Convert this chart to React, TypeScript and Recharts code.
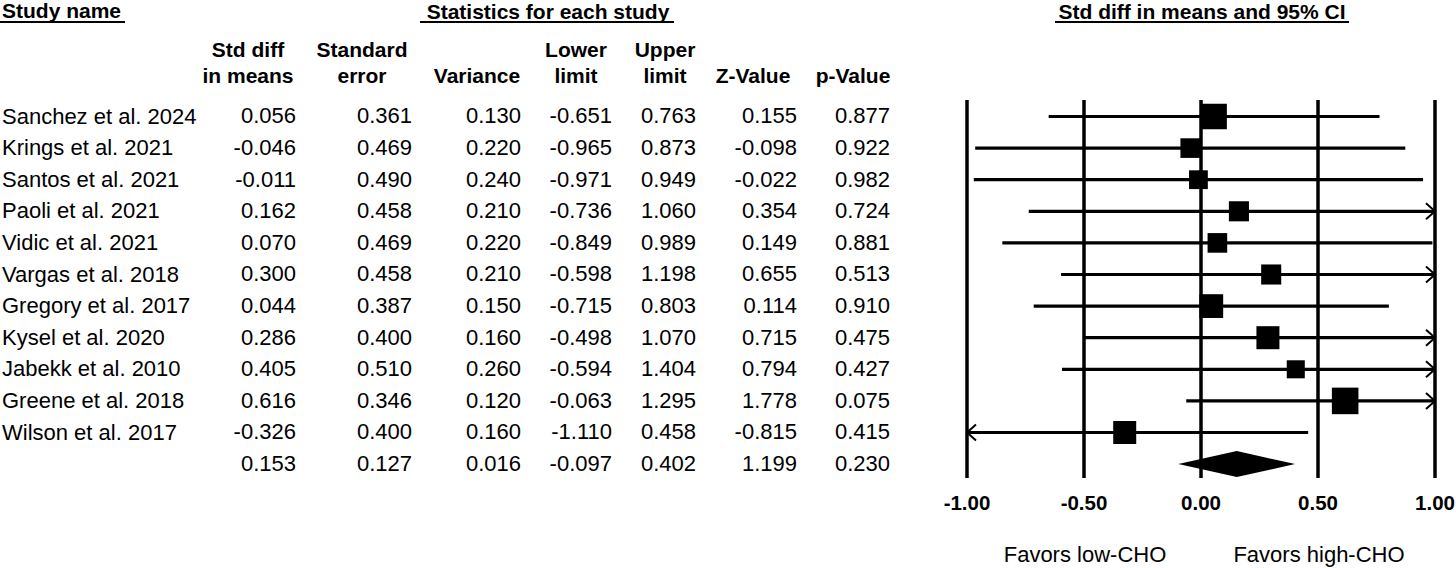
import React from "react";
import { ReferenceLine, Scatter, ScatterChart, XAxis, YAxis } from "recharts";

const studyNames = [
  "Sanchez et al. 2024",
  "Krings et al. 2021",
  "Santos et al. 2021",
  "Paoli et al. 2021",
  "Vidic et al. 2021",
  "Vargas et al. 2018",
  "Gregory et al. 2017",
  "Kysel et al. 2020",
  "Jabekk et al. 2010",
  "Greene et al. 2018",
  "Wilson et al. 2017",
];
const stdDiff = [0.056, -0.046, -0.011, 0.162, 0.07, 0.3, 0.044, 0.286, 0.405, 0.616, -0.326];
const stdErr = [0.361, 0.469, 0.49, 0.458, 0.469, 0.458, 0.387, 0.4, 0.51, 0.346, 0.4];
const variance = [0.13, 0.22, 0.24, 0.21, 0.22, 0.21, 0.15, 0.16, 0.26, 0.12, 0.16];
const lowerLimit = [-0.651, -0.965, -0.971, -0.736, -0.849, -0.598, -0.715, -0.498, -0.594, -0.063, -1.11];
const upperLimit = [0.763, 0.873, 0.949, 1.06, 0.989, 1.198, 0.803, 1.07, 1.404, 1.295, 0.458];
const zValue = [0.155, -0.098, -0.022, 0.354, 0.149, 0.655, 0.114, 0.715, 0.794, 1.778, -0.815];
const pValue = [0.877, 0.922, 0.982, 0.724, 0.881, 0.513, 0.91, 0.475, 0.427, 0.075, 0.415];

// pooled effect
const summary = { est: 0.153, se: 0.127, variance: 0.016, lower: -0.097, upper: 0.402, z: 1.199, p: 0.23 };

const xTicks = [-1, -0.5, 0, 0.5, 1];

const columnHeaders = [
  ["Std diff", "in means"],
  ["Standard", "error"],
  ["", "Variance"],
  ["Lower", "limit"],
  ["Upper", "limit"],
  ["", "Z-Value"],
  ["", "p-Value"],
];

// layout
const W = 1456;
const H = 568;
const PLOT_LEFT = 967;
const PLOT_RIGHT = 1435;
const PLOT_TOP = 100;
const PLOT_BOTTOM = 478;
const ROW0 = 116.5;
const ROW_H = 31.6;
const colRight = [296, 412, 521, 612, 696, 797, 890];
const colCenter = [248, 362, 477, 576, 665, 753, 853];

const font = "'Liberation Sans', Arial, Helvetica, sans-serif";

const rowCols = (i: number) => [stdDiff[i], stdErr[i], variance[i], lowerLimit[i], upperLimit[i], zValue[i], pValue[i]];
const summaryCols = [summary.est, summary.se, summary.variance, summary.lower, summary.upper, summary.z, summary.p];

const points = stdDiff.map((v, i) => ({ x: v, y: i, variance: variance[i] }));

function CiLine(props: any) {
  const { x1, x2, y1, y2, clipLeft, clipRight } = props;
  return (
    <g>
      <line x1={x1} y1={y1} x2={x2} y2={y2} stroke="#000" strokeWidth={3.2} />
      {clipRight && (
        <polyline points={`${x2 - 9},${y2 - 8} ${x2},${y2} ${x2 - 9},${y2 + 8}`} fill="none" stroke="#000" strokeWidth={2} />
      )}
      {clipLeft && (
        <polyline points={`${x1 + 9},${y1 - 8} ${x1},${y1} ${x1 + 9},${y1 + 8}`} fill="none" stroke="#000" strokeWidth={2} />
      )}
    </g>
  );
}

function Diamond(props: any) {
  const { x1, x2, y1 } = props;
  const cx = x1 + ((summary.est - summary.lower) / (summary.upper - summary.lower)) * (x2 - x1);
  const h = 13;
  return <polygon points={`${x1},${y1} ${cx},${y1 - h} ${x2},${y1} ${cx},${y1 + h}`} fill="#000" />;
}

function Square(props: any) {
  const { cx, cy, payload } = props;
  const s = 9.2 * Math.sqrt(1 / payload.variance);
  return <rect x={cx - s / 2} y={cy - s / 2} width={s} height={s} fill="#000" />;
}

const cell = (text: string, right: number, cy: number, bold = false, size = 22) => (
  <div
    style={{
      position: "absolute",
      right: W - right,
      top: cy - size * 0.55,
      fontSize: size,
      lineHeight: `${size * 1.1}px`,
      fontWeight: bold ? 700 : 400,
      whiteSpace: "nowrap",
    }}
  >
    {text}
  </div>
);

const centered = (text: string, cx: number, cy: number, bold = false, size = 22) => (
  <div
    style={{
      position: "absolute",
      left: cx - 200,
      width: 400,
      textAlign: "center",
      top: Math.max(0, cy - size * 0.55),
      fontSize: size,
      lineHeight: `${size * 1.1}px`,
      fontWeight: bold ? 700 : 400,
      whiteSpace: "nowrap",
    }}
  >
    {text}
  </div>
);

const underline = (left: number, right: number, y: number) => (
  <div style={{ position: "absolute", left, top: y, width: right - left, height: 2, background: "#000" }} />
);

export default function App() {
  const rowY = (i: number) => ROW0 + ROW_H * i;
  const yDomain = [(PLOT_TOP - ROW0) / ROW_H, (PLOT_BOTTOM - ROW0) / ROW_H];

  return (
    <div style={{ position: "relative", width: W, height: H, fontFamily: font, color: "#000", background: "#fff", overflow: "hidden" }}>
      <style>{"body{margin:0}"}</style>

      {/* section headers */}
      <div style={{ position: "absolute", left: 2, top: 0, fontSize: 21, fontWeight: 700, lineHeight: "21px" }}>Study name</div>
      {underline(0, 125, 21)}
      {centered("Statistics for each study", 548, 9, true, 21)}
      {underline(420, 674, 21)}
      {centered("Std diff in means and 95% CI", 1202, 9, true, 21)}
      {underline(1055, 1349, 21)}

      {/* column headers */}
      {columnHeaders.map((h, c) => (
        <React.Fragment key={c}>
          {h[0] && centered(h[0], colCenter[c], 50, true, 21)}
          {centered(h[1], colCenter[c], 76, true, 21)}
        </React.Fragment>
      ))}

      {/* study rows */}
      {studyNames.map((name, i) => (
        <React.Fragment key={name}>
          <div style={{ position: "absolute", left: 2, top: rowY(i) - 12, fontSize: 22, lineHeight: "24px", whiteSpace: "nowrap" }}>{name}</div>
          {rowCols(i).map((v, c) => (
            <React.Fragment key={c}>{cell(v.toFixed(3), colRight[c], rowY(i))}</React.Fragment>
          ))}
        </React.Fragment>
      ))}
      {summaryCols.map((v, c) => (
        <React.Fragment key={c}>{cell(v.toFixed(3), colRight[c], rowY(studyNames.length))}</React.Fragment>
      ))}

      {/* forest plot */}
      <div style={{ position: "absolute", left: 0, top: 0 }}>
        <ScatterChart
          width={W}
          height={H}
          margin={{ top: PLOT_TOP, bottom: H - PLOT_BOTTOM - 30, left: PLOT_LEFT, right: W - PLOT_RIGHT }}
        >
          <XAxis
            type="number"
            dataKey="x"
            domain={[-1, 1]}
            ticks={xTicks}
            height={30}
            axisLine={false}
            tickLine={false}
            tickSize={6}
            tickMargin={11}
            interval={0}
            allowDataOverflow
            tickFormatter={(v: number) => v.toFixed(2)}
            tick={{ fill: "#000", fontSize: 20.5, fontWeight: 700, fontFamily: font }}
          />
          <YAxis type="number" dataKey="y" domain={yDomain} reversed hide allowDataOverflow />
          {xTicks.map((t) => (
            <ReferenceLine key={t} x={t} stroke="#000" strokeWidth={3.5} />
          ))}
          {studyNames.map((name, i) => {
            const lo = Math.max(lowerLimit[i], -1);
            const hi = Math.min(upperLimit[i], 1);
            return (
              <ReferenceLine
                key={name}
                segment={[{ x: lo, y: i }, { x: hi, y: i }]}
                ifOverflow="visible"
                shape={(p: any) => <CiLine {...p} clipLeft={lowerLimit[i] < -1} clipRight={upperLimit[i] > 1} />}
              />
            );
          })}
          <ReferenceLine
            segment={[{ x: summary.lower, y: studyNames.length }, { x: summary.upper, y: studyNames.length }]}
            ifOverflow="visible"
            shape={(p: any) => <Diamond {...p} />}
          />
          <Scatter data={points} isAnimationActive={false} shape={(p: any) => <Square {...p} />} />
        </ScatterChart>
      </div>

      {centered("Favors low-CHO", 1085, 555, false, 22)}
      {centered("Favors high-CHO", 1319, 555, false, 22)}
    </div>
  );
}
